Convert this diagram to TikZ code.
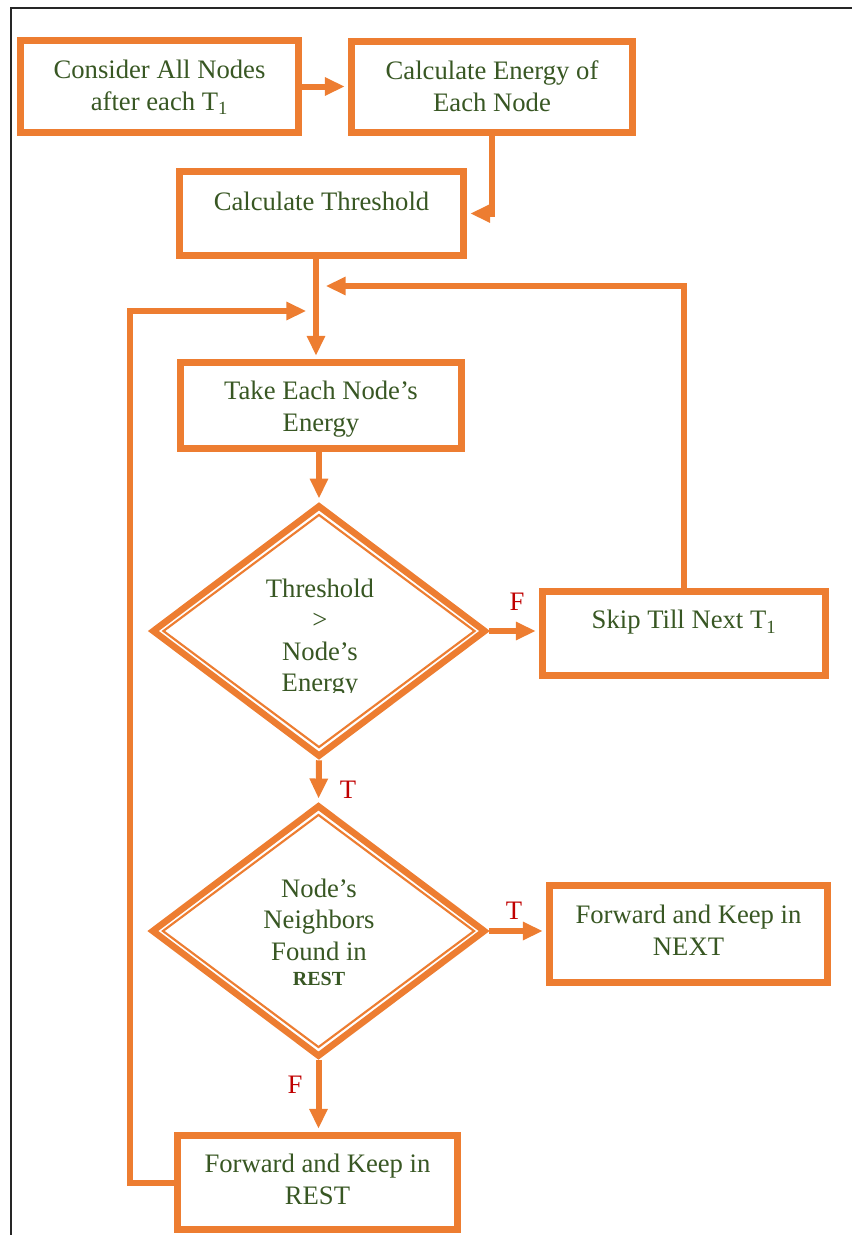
\documentclass[tikz,border=0pt]{standalone}
\usepackage{fontspec}
\setmainfont{Liberation Serif}
\usetikzlibrary{shapes.geometric,arrows.meta}
\definecolor{org}{HTML}{ED7D31}
\definecolor{grn}{HTML}{385723}
\definecolor{lab}{HTML}{C00000}
\begin{document}
\begin{tikzpicture}[x=0.75pt,y=-0.75pt,
  box/.style={draw=org, line width=4.9pt, fill=white, inner sep=0pt},
  txt/.style={inner sep=0pt, align=center, text=grn, font=\fontsize{20}{24}\selectfont},
  dia/.style={diamond, draw=org, line width=4.9pt, fill=white, inner sep=0pt,
    minimum width=334*0.75pt, minimum height=252*0.75pt},
  diain/.style={diamond, draw=org, line width=1.6pt, inner sep=0pt,
    minimum width=312*0.75pt, minimum height=233*0.75pt},
  diatext/.style={inner sep=0pt, align=center, text=grn, font=\fontsize{20}{23.5}\selectfont},
  arr/.style={draw=org, line width=4.5pt, shorten >=2.4pt,
    -{Triangle[length=15pt,width=13pt]}},
  lbl/.style={inner sep=0pt, text=lab, font=\fontsize{20}{24}\selectfont},
  frame/.style={draw=black!85, line width=1.5pt}
]
\useasboundingbox (0,0) rectangle (852,1235);
\draw[frame] (11,1235) -- (11,8) -- (852,8);

% boxes
\node[box, minimum width=278.5*0.75pt, minimum height=92.5*0.75pt] (b1) at (159.5,86.5) {};
\node[txt] (b1t) at (159.5,87.5) {Consider All Nodes\\after each T\textsubscript{1}};
\node[box, minimum width=281.5*0.75pt, minimum height=91.5*0.75pt] (b2) at (492,87) {};
\node[txt] (b2t) at (492,86) {Calculate Energy of\\Each Node};
\node[box, minimum width=284.5*0.75pt, minimum height=84.5*0.75pt] (th) at (321.5,213.5) {};
\node[txt] (tht) at (321.5,201.5) {Calculate Threshold};
\node[box, minimum width=281.5*0.75pt, minimum height=86.5*0.75pt] (take) at (321,405.5) {};
\node[txt] (taket) at (321,409.5) {Take Each Node’s\\Energy};
\node[box, minimum width=283.5*0.75pt, minimum height=84.5*0.75pt] (skip) at (684,633.5) {};
\node[txt] (skipt) at (684,622.5) {Skip Till Next T\textsubscript{1}};
\node[box, minimum width=278.5*0.75pt, minimum height=97.5*0.75pt] (next) at (688.5,934) {};
\node[txt] (nextt) at (688.5,930) {Forward and Keep in\\NEXT};
\node[box, minimum width=280.5*0.75pt, minimum height=94.5*0.75pt] (rest) at (317.5,1182.5) {};
\node[txt] (restt) at (317.5,1179.5) {Forward and Keep in\\REST};

% diamonds
\node[dia] (d1) at (319,631) {};
\node[diain] (d1i) at (319,631) {};
\begin{scope}
  \clip (150,505) rectangle (490,692.5);
  \node[diatext] (d1t) at (320,638) {Threshold\\>\\Node’s\\Energy};
\end{scope}
\node[dia] (d2) at (318.5,931) {};
\node[diain] (d2i) at (318.5,931) {};
\node[diatext] (d2t) at (319,932.5)
  {Node’s\\Neighbors\\Found in\\[-4.5pt]{\bfseries\fontsize{15}{18}\selectfont REST}};

% junction coordinates
\coordinate (mx) at (316,286);
\coordinate (ja) at (322.5,286);
\coordinate (jb) at (309.5,311);
\coordinate (lc) at (130,311);

% connectors
\draw[arr] (b1.east) -- (b1.east -| b2.west);
\draw[arr] (b2.south) |- (th.east);
\draw[arr] (th.south -| mx) -- (take.north -| mx);
\draw[arr] (skip.north) |- (ja);
\draw[arr] (rest.west) -| (lc) -- (jb);
\draw[arr] (take.south -| d1.north) -- (d1.north);
\draw[arr] (d1.east) -- (d1.east -| skip.west);
\draw[arr] (d1.south) -- (d2.north);
\draw[arr] (d2.east) -- (d2.east -| next.west);
\draw[arr] (d2.south) -- (d2.south |- rest.north);

% labels
\node[lbl] (lf1) at (517,602) {F};
\node[lbl] (lt1) at (348,790) {T};
\node[lbl] (lt2) at (514,911) {T};
\node[lbl] (lf2) at (295,1085) {F};
\end{tikzpicture}
\end{document}
